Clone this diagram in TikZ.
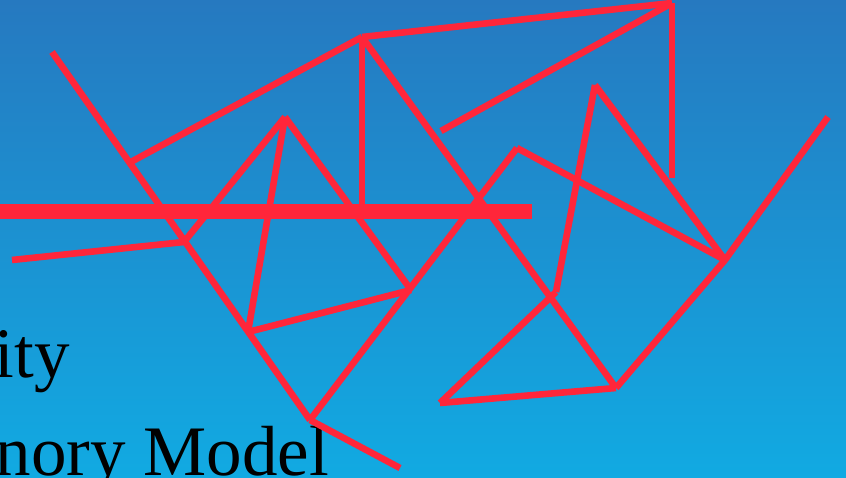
\documentclass[tikz,border=0pt]{standalone}
\usepackage{fontspec}
\setmainfont{Liberation Serif}
\definecolor{bgtop}{RGB}{38,121,192}
\definecolor{bgbot}{RGB}{17,170,226}
\definecolor{lred}{RGB}{255,38,58}
\begin{document}
\begin{tikzpicture}[x=1pt,y=-1pt,
  edge/.style={draw=lred, line width=6.6pt, line cap=butt},
  bar/.style={draw=lred, line width=15pt, line cap=butt},
  label/.style={anchor=base east, inner sep=0pt, text=black, font=\fontsize{71}{71}\selectfont}]
\useasboundingbox (0,0) rectangle (846,478);
\clip (0,0) rectangle (846,478);
\shade[top color=bgtop, bottom color=bgbot] (0,0) rectangle (846,478);
% text
\node[label] (t1) at (70,377) {ity};
\node[label] (t2) at (329,475) {nory Model};
% points
\coordinate (A) at (52,52);
\coordinate (B) at (129,163);
\coordinate (C) at (184,242);
\coordinate (D) at (248,332);
\coordinate (E) at (310,420);
\coordinate (F) at (400,468);
\coordinate (G) at (362,37);
\coordinate (H) at (672,3);
\coordinate (I) at (672,178);
\coordinate (J) at (441,131);
\coordinate (K) at (362,211);
\coordinate (L) at (285,117);
\coordinate (M) at (411,290);
\coordinate (N) at (12,260);
\coordinate (O) at (517,148);
\coordinate (P) at (595,85);
\coordinate (Q) at (556,292);
\coordinate (R) at (725,260);
\coordinate (S) at (828,117);
\coordinate (T) at (616,388);
\coordinate (U) at (440,403);
\coordinate (BL) at (0,211.5);
\coordinate (BR) at (532,211.5);
% connectors
\draw[bar] (BL) -- (BR);
\draw[edge] (A) -- (E);
\draw[edge] (E) -- (F);
\draw[edge] (B) -- (G);
\draw[edge] (G) -- (H);
\draw[edge] (H) -- (I);
\draw[edge] (H) -- (J);
\draw[edge] (G) -- (K);
\draw[edge] (G) -- (T);
\draw[edge] (L) -- (C);
\draw[edge] (L) -- (D);
\draw[edge] (L) -- (M);
\draw[edge] (D) -- (M);
\draw[edge] (N) -- (C);
\draw[edge] (E) -- (O);
\draw[edge] (O) -- (R);
\draw[edge] (P) -- (Q);
\draw[edge] (P) -- (R);
\draw[edge] (R) -- (S);
\draw[edge] (R) -- (T);
\draw[edge] (Q) -- (U);
\draw[edge] (U) -- (T);
\end{tikzpicture}
\end{document}
